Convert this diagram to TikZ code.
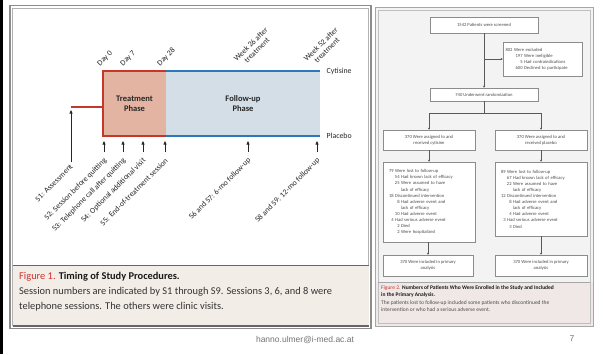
\documentclass[tikz,border=0pt]{standalone}
\usepackage{fontspec}
\setmainfont{Carlito}
\newfontfamily\footfont{Liberation Sans}
\usetikzlibrary{arrows.meta}
\definecolor{tred}{HTML}{C5372A}
\definecolor{tblue}{HTML}{2B78BA}
\definecolor{tfill}{HTML}{E4B4A2}
\definecolor{ffill}{HTML}{D3DEE7}
\definecolor{capfill}{HTML}{F3EDE8}
\definecolor{capred}{HTML}{D0312D}
\definecolor{rpanel}{HTML}{F3F3F3}
\definecolor{rcap}{HTML}{EFE8E6}
\tikzset{
  tl/.style={font=\fontsize{7.8}{8.6}\selectfont, text=black!85, inner sep=0.5pt},
  rot/.style={tl, rotate=45},
  upar/.style={-{Triangle[length=3.5pt,width=3pt]}, line width=0.6pt, black!85},
  fbox/.style={draw=black!45, fill=white, line width=0.5pt, text=black!70,
    font=\fontsize{4.6}{6.1}\selectfont, inner sep=1.5pt},
  conn/.style={line width=0.5pt, black!65},
  conna/.style={conn, -{Stealth[length=2pt,width=2pt]}}
}
\begin{document}
\begin{tikzpicture}[x=1pt,y=-1pt]
\useasboundingbox (0,0) rectangle (603,354);
\fill[white] (0,0) rectangle (603,354);
\fill[black] (0,0) rectangle (3,354);

% ---------- left panel frame
\draw[black!45, line width=1.4pt] (10,5.5) rectangle (371,328.5);
\draw[black!30, line width=0.5pt] (12.5,8.5) rectangle (368.5,325.5);
\fill[capfill] (12.5,265) rectangle (368.5,326);
\draw[black!60, line width=0.8pt] (12.5,265) -- (368.5,265);
\draw[black!60, line width=1.2pt] (12.5,326) -- (368.5,326);

% ---------- timeline
\coordinate (tl0) at (103,71);
\coordinate (bl0) at (103,136);
\coordinate (tl1) at (166,71);
\coordinate (bl1) at (166,136);
\coordinate (tl2) at (320,71);
\coordinate (bl2) at (320,136);
\coordinate (lead) at (71,107);
\fill[tfill] (tl0) rectangle (bl1);
\fill[ffill] (tl1) rectangle (bl2);
\draw[tblue, line width=2.6pt] (tl1) -- (tl2);
\draw[tblue, line width=2.6pt] (bl1) -- (bl2);
\draw[tred, line width=2.6pt] (tl1) -- (tl0) -- (bl0) -- (bl1);
\draw[tred, line width=2.6pt] (lead) -- (lead -| tl0);

\node[tl, anchor=west] (cyt) at (326,71) {Cytisine};
\node[tl, anchor=west] (plc) at (326,136) {Placebo};
\node[font=\bfseries\fontsize{8.5}{10}\selectfont, text=black!85, align=center] (tp) at (134.5,104) {Treatment\\Phase};
\node[font=\bfseries\fontsize{8.5}{10}\selectfont, text=black!85, align=center] (fp) at (243,104) {Follow-up\\Phase};

% top labels
\node[rot, anchor=south west] (d0) at (101,68) {Day 0};
\node[rot, anchor=south west] (d7) at (124,68) {Day 7};
\node[rot, anchor=south west] (d28) at (161,68) {Day 28};
\node[rot, anchor=south west, align=center] (w26) at (243,69) {Week 26 after\\treatment};
\node[rot, anchor=south west, align=center] (w52) at (313,69) {Week 52 after\\treatment};

% session arrows
\coordinate (s1b) at (71,162);
\coordinate (s1t) at (71,110);
\draw[upar] (s1b) -- (s1t);
\foreach \n/\x in {s2/104, s3/123, s4/143, s5/165, s6/248, s8/317}{
  \coordinate (\n b) at (\x,152);
  \coordinate (\n t) at (\x,141);
  \draw[upar] (\n b) -- (\n t);
}
\node[rot, anchor=east] (l1) at (72,165) {S1: Assessment};
\node[rot, anchor=east] (l2) at (106,159) {S2: Session before quitting};
\node[rot, anchor=east] (l3) at (125,159) {S3: Telephone call after quitting};
\node[rot, anchor=east] (l4) at (145,159) {S4: Optional additional visit};
\node[rot, anchor=east] (l5) at (167,159) {S5: End-of-treatment session};
\node[rot, anchor=east] (l6) at (250,159) {S6 and S7: 6-mo follow-up};
\node[rot, anchor=east] (l8) at (319,159) {S8 and S9: 12-mo follow-up};

% caption 1
\node[anchor=north west, align=left, inner sep=0pt, text=black!80,
  font=\fontsize{10.4}{15}\selectfont] (cap1) at (19,271.5)
  {\textcolor{capred}{Figure 1.} \textbf{\color{black!90}Timing of Study Procedures.}\\
   Session numbers are indicated by S1 through S9. Sessions 3, 6, and 8 were\\
   telephone sessions. The others were clinic visits.};

% ---------- right panel
\fill[rpanel] (375,7) rectangle (593,326);
\fill[rcap] (375,282) rectangle (593,326);
\draw[black!35, line width=1pt] (375,7) rectangle (593,326);
\draw[black!25, line width=0.4pt] (378,10) rectangle (590,323);
\draw[black!35, line width=0.6pt] (378,282) -- (590,282);

\node[fbox, minimum width=108pt, minimum height=16pt] (scr) at (484,25) {1542 Patients were screened};
\node[fbox, minimum width=79pt, minimum height=34pt, align=left, text width=74pt] (exc) at (542.5,59)
  {802 Were excluded\\
   \hspace*{2.2em}197 Were ineligible\\
   \hspace*{2.2em}\phantom{00}5 Had contraindications\\
   \hspace*{2.2em}600 Declined to participate};
\node[fbox, minimum width=108pt, minimum height=13pt] (rnd) at (484,94.5) {740 Underwent randomization};
\node[fbox, minimum width=92pt, minimum height=20pt, align=center] (ac) at (429,140) {370 Were assigned to and\\received cytisine};
\node[fbox, minimum width=92pt, minimum height=20pt, align=center] (ap) at (541,140) {370 Were assigned to and\\received placebo};
\node[fbox, minimum width=92pt, minimum height=80pt, align=left, text width=80pt] (lc) at (429,202)
  {79 Were lost to follow-up\\
   \hspace*{1.3em}54 Had known lack of efficacy\\
   \hspace*{1.3em}25 Were assumed to have\\
   \hspace*{2.6em}lack of efficacy\\
   18 Discontinued intervention\\
   \hspace*{1.3em}\phantom{0}8 Had adverse event and\\
   \hspace*{2.6em}lack of efficacy\\
   \hspace*{1.3em}10 Had adverse event\\
   \phantom{0}4 Had serious adverse event\\
   \hspace*{1.3em}\phantom{0}2 Died\\
   \hspace*{1.3em}\phantom{0}2 Were hospitalized};
\node[fbox, minimum width=92pt, minimum height=74pt, align=left, text width=80pt] (lp) at (541,199)
  {89 Were lost to follow-up\\
   \hspace*{1.3em}67 Had known lack of efficacy\\
   \hspace*{1.3em}22 Were assumed to have\\
   \hspace*{2.6em}lack of efficacy\\
   12 Discontinued intervention\\
   \hspace*{1.3em}\phantom{0}8 Had adverse event and\\
   \hspace*{2.6em}lack of efficacy\\
   \hspace*{1.3em}\phantom{0}4 Had adverse event\\
   \phantom{0}3 Had serious adverse event\\
   \hspace*{1.3em}\phantom{0}3 Died};
\node[fbox, minimum width=90pt, minimum height=21pt, align=center] (fc) at (428,265.5) {370 Were included in primary\\analysis};
\node[fbox, minimum width=92pt, minimum height=21pt, align=center] (fpl) at (541,265.5) {370 Were included in primary\\analysis};

\draw[conna] (scr) -- (rnd);
\draw[conna] (scr.south |- exc.west) -- (exc.west);
\coordinate (split) at (484,113);
\draw[conn] (rnd.south) -- (split);
\draw[conn] (split -| ac.north) -- (split -| ap.north);
\draw[conna] (split -| ac.north) -- (ac.north);
\draw[conna] (split -| ap.north) -- (ap.north);
\draw[conna] (ac) -- (lc);
\draw[conna] (ap) -- (lp);
\draw[conna] (lc.south -| fc.north) -- (fc.north);
\draw[conna] (lp.south) -- (fpl.north);

\node[anchor=north west, align=left, inner sep=0pt, text=black!70,
  font=\fontsize{5.5}{7.4}\selectfont] (cap2) at (381,285.5)
  {\textcolor{capred}{Figure 2.} \textbf{\color{black!90}Numbers of Patients Who Were Enrolled in the Study and Included}\\
   \textbf{\color{black!90}in the Primary Analysis.}\\
   The patients lost to follow-up included some patients who discontinued the\\
   intervention or who had a serious adverse event.};

% ---------- footer
\node[font=\footfont\fontsize{8.5}{10}\selectfont, text=black!55] (mail) at (305,340) {hanno.ulmer@i-med.ac.at};
\node[font=\footfont\fontsize{8.5}{10}\selectfont, text=black!55] (pg) at (572,339) {7};
\end{tikzpicture}
\end{document}
